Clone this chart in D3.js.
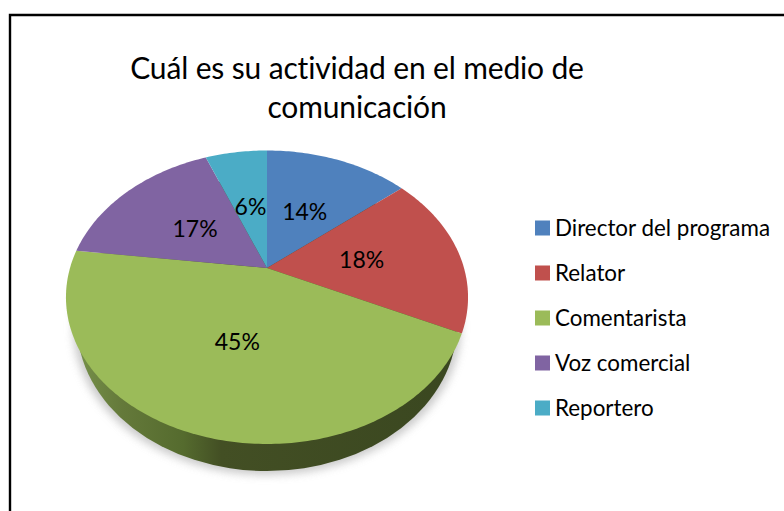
<!DOCTYPE html>
<html><head><meta charset="utf-8">
<script src="https://cdnjs.cloudflare.com/ajax/libs/d3/7.8.5/d3.min.js"></script>
<style>html,body{margin:0;padding:0;background:#fff}svg{display:block}text{font-family:Lato,"Open Sans",sans-serif;fill:#000}</style>
</head><body><script>
const categories = ["Director del programa","Relator","Comentarista","Voz comercial","Reportero"];
const values = [14,18,45,17,6];
const colors = ["#4f81bd","#c0504d","#9bbb59","#8064a2","#4bacc6"];
const titleLines = ["Cuál es su actividad en el medio de","comunicación"];

const W=784,H=511;
const svg=d3.select("body").append("svg").attr("width",W).attr("height",H);
svg.append("rect").attr("width",W).attr("height",H).attr("fill","#fff");
svg.append("path").attr("d",`M10 ${H}V15H${W}`).attr("fill","none").attr("stroke","#000").attr("stroke-width",2.4);

// perspective projection of the unit disc
const cx=267,cyA=268,a=87.5,c=-0.1993,d=197;
const proj=(x,y)=>{const w=1+c*y;return [cx+d*x/w,(a*y+cyA)/w];};

const defs=svg.append("defs");
const grad=defs.append("linearGradient").attr("id","side").attr("gradientUnits","userSpaceOnUse")
  .attr("x1",77).attr("x2",457).attr("y1",0).attr("y2",0);
[[0,"#76904a"],[0.12,"#64793a"],[0.28,"#556b2e"],[0.38,"#434f24"],[1,"#3a4720"]].forEach(s=>
  grad.append("stop").attr("offset",s[0]).attr("stop-color",s[1]));
defs.append("filter").attr("id","blur").attr("x","-20%").attr("y","-20%").attr("width","140%").attr("height","140%")
  .append("feGaussianBlur").attr("stdDeviation",4);

// shadow and side wall
svg.append("ellipse").attr("cx",cx).attr("cy",327).attr("rx",194).attr("ry",148).attr("fill","#b4b4b4").attr("opacity",.7).attr("filter","url(#blur)");
svg.append("ellipse").attr("cx",cx).attr("cy",324).attr("rx",190).attr("ry",147).attr("fill","url(#side)");

// pie faces
const pie=d3.pie().sort(null).value(v=>v).startAngle(0).endAngle(2*Math.PI);
const arcs=pie(values);
const line=d3.line().curve(d3.curveLinear);
const g=svg.append("g");
arcs.forEach((s,i)=>{
  const n=Math.max(8,Math.ceil((s.endAngle-s.startAngle)*60));
  const pts=[proj(0,0)];
  d3.range(n+1).forEach(k=>{
    const t=s.startAngle+(s.endAngle-s.startAngle)*k/n;
    pts.push(proj(Math.sin(t),-Math.cos(t)));
  });
  g.append("path").attr("d",line(pts)+"Z").attr("fill",colors[i]);
});

// value labels
const labelArc=d3.arc().innerRadius(.49).outerRadius(.49);
arcs.forEach((s,i)=>{
  const [x,y]=labelArc.centroid(s);
  const p=proj(x,y);
  svg.append("text").attr("x",p[0]).attr("y",p[1]+9).attr("text-anchor","middle")
    .attr("font-size",23).text(d3.format(".0f")(s.value)+"%");
});

// title
titleLines.forEach((t,i)=>svg.append("text").attr("x",357).attr("y",79+i*39)
  .attr("text-anchor","middle").attr("font-size",30).attr("letter-spacing",-0.15).text(t));

// legend
const ly=d3.scalePoint().domain(categories).range([227.5,407.5]);
categories.forEach((t,i)=>{
  svg.append("rect").attr("x",535).attr("y",ly(t)-7).attr("width",15).attr("height",15).attr("fill",colors[i]);
  svg.append("text").attr("x",555).attr("y",ly(t)+8).attr("font-size",22.4).text(t);
});
</script></body></html>
